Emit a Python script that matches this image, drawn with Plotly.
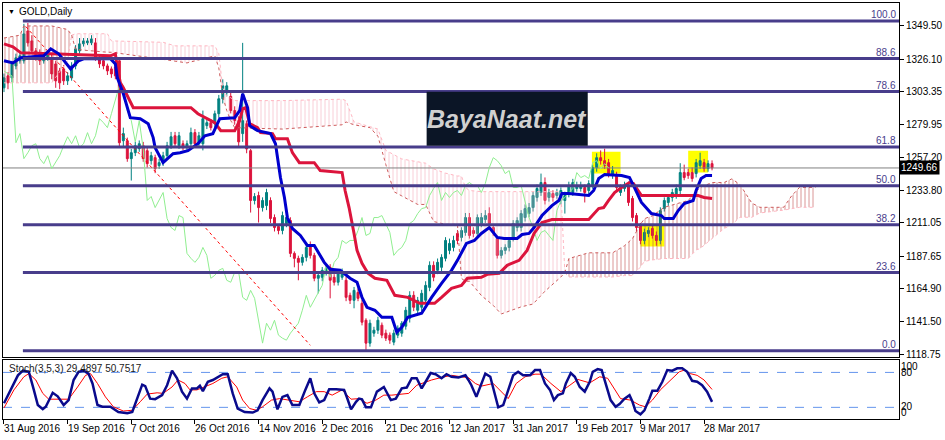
import plotly.graph_objects as go

# ---------------- DATA ----------------
bars = list(range(179))
opens = [1306, 1314.4, 1313.0, 1321.4, 1325.0, 1325.0, 1346.0, 1339.0, 1332.0, 1330.6,
         1325.0, 1327.1, 1327.1, 1322.8, 1317.9, 1319.3, 1310.9, 1313.0, 1321.4, 1332.0,
         1336.9, 1337.6, 1337.6, 1337.6, 1327.1, 1325.0, 1321.4, 1319.3, 1320.7, 1325.0,
         1268.8, 1268.8, 1256.2, 1260.4, 1263.2, 1265.3, 1261.8, 1254.8, 1256.9, 1251.3,
         1253.4, 1258.3, 1265.3, 1272.3, 1265.3, 1266.7, 1263.9, 1266.7, 1274.5, 1266.7,
         1266.7, 1279.4, 1281.5, 1280.8, 1287.8, 1298.3, 1302.5, 1300, 1290, 1283,
         1273.8, 1280.8, 1261.8, 1226.8, 1230.3, 1221.8, 1223.2, 1226.8, 1214.8, 1208.5,
         1205.7, 1210.6, 1212.7, 1189.6, 1186.1, 1183.3, 1186.8, 1195.2, 1188.2, 1172.1,
         1172.8, 1176.3, 1179.8, 1172.8, 1169.3, 1172.8, 1170.7, 1160.1, 1156.6, 1162.2,
         1154.5, 1142.6, 1126.5, 1133.5, 1135.6, 1139.1, 1133.5, 1132.1, 1127.2, 1132.1,
         1133.5, 1138.4, 1144.0, 1160.1, 1149.6, 1151.7, 1156.6, 1165.7, 1181.2, 1177.7,
         1179.8, 1186.1, 1191.7, 1193.8, 1203.6, 1200.8, 1204.3, 1214.8, 1205.7, 1203.6,
         1210.6, 1213.4, 1217.6, 1207.8, 1200.1, 1188.2, 1191.7, 1193.8, 1200.8, 1207.8,
         1207.8, 1214.8, 1217.6, 1221.8, 1228.9, 1232.4, 1239.4, 1228.9, 1231.7, 1230.3,
         1226.8, 1226.8, 1231.7, 1232.4, 1235.2, 1235.2, 1235.9, 1233.8, 1237.3, 1249.9,
         1256.9, 1254.8, 1253.4, 1244.3, 1244.3, 1232.4, 1235.2, 1237.3, 1228.2, 1216.2,
         1209.2, 1198.7, 1203.6, 1207.1, 1202.2, 1198.7, 1221.1, 1225.4, 1228.9, 1230.3,
         1233.8, 1246.4, 1246.4, 1246.4, 1245.7, 1251.3, 1253.4, 1249.2, 1252.7]
highs = [1316, 1317, 1325, 1330, 1331, 1351.0, 1351.6, 1343, 1334, 1333,
         1330, 1331, 1329, 1325, 1320, 1322, 1317, 1324, 1336, 1341,
         1341, 1341, 1343, 1341, 1329, 1327, 1323, 1321, 1323, 1326,
         1278, 1271, 1263, 1268, 1269, 1268, 1264, 1261, 1259, 1256,
         1261, 1268, 1275, 1275, 1275, 1269, 1269, 1278, 1277, 1275,
         1290, 1284, 1284, 1290, 1301, 1312, 1310, 1303, 1293, 1286,
         1337.6, 1283, 1263, 1232, 1233, 1229, 1235, 1229, 1217, 1210,
         1219, 1217, 1215, 1191, 1188, 1189, 1196, 1198, 1190, 1177,
         1180, 1181, 1182, 1175, 1178, 1179, 1173, 1162, 1166, 1165,
         1157, 1144, 1143, 1138, 1145, 1141, 1136, 1134, 1136, 1139,
         1142, 1152, 1163, 1163, 1159, 1164, 1170, 1184, 1184, 1186,
         1189, 1201, 1200, 1202, 1206, 1208, 1218, 1218, 1208, 1217,
         1218, 1220, 1222, 1210, 1202, 1194, 1196, 1201, 1213, 1215,
         1220, 1224, 1225, 1233, 1238, 1245.7, 1243, 1235, 1234, 1235,
         1236, 1233, 1240, 1242, 1240, 1240, 1238, 1241, 1252, 1260,
         1262, 1263.2, 1256, 1251, 1247, 1238, 1240, 1240, 1230, 1218,
         1211, 1207, 1208, 1210, 1205, 1222, 1229, 1231, 1235, 1238,
         1253, 1252, 1249, 1250, 1256, 1260.4, 1256, 1255, 1255]
lows = [1303, 1305, 1310, 1319, 1323, 1323, 1335, 1330, 1325, 1322,
        1323, 1325, 1312, 1306, 1305, 1308, 1308, 1311, 1319, 1330,
        1335, 1336, 1336, 1325, 1320, 1319, 1315, 1313, 1312, 1265,
        1265, 1254, 1240.8, 1258, 1261, 1254, 1250, 1252, 1246, 1249,
        1251, 1256, 1263, 1264, 1263, 1262, 1262, 1264, 1264, 1265,
        1262, 1277, 1276, 1278, 1285, 1295, 1300, 1288, 1280, 1265,
        1268, 1260, 1218.3, 1224, 1211.3, 1219, 1220, 1211, 1205, 1203,
        1203, 1208, 1187, 1179.8, 1170.7, 1181, 1184, 1186, 1170, 1161.5,
        1170, 1174, 1158.0, 1167, 1167, 1171, 1156, 1154, 1151.0, 1156,
        1139, 1121.6, 1124, 1131, 1133, 1130, 1128, 1126, 1125, 1130,
        1131, 1136, 1141, 1149, 1147, 1149, 1154, 1163, 1170, 1175,
        1177, 1184, 1189, 1191, 1196, 1198, 1202, 1200, 1201, 1201,
        1208, 1211, 1208, 1202, 1186, 1186, 1189, 1191, 1198, 1205,
        1205, 1212, 1215, 1219, 1226, 1230, 1224, 1226, 1226, 1228,
        1224, 1217.6, 1229, 1230, 1233, 1233, 1225.4, 1231, 1235, 1247,
        1252, 1249, 1243, 1242, 1233, 1230, 1233, 1223, 1212, 1205,
        1196, 1196, 1201, 1200, 1195, 1196, 1219, 1223, 1226, 1228,
        1231, 1241, 1242, 1240, 1243, 1249, 1247, 1247, 1248]
closes = [1313, 1309.5, 1322.8, 1327.1, 1328.5, 1343.9, 1337.6, 1332.0, 1327.1, 1325.0,
          1327.8, 1329.2, 1315.8, 1310.9, 1309.5, 1310.9, 1314.4, 1321.4, 1333.4, 1336.9,
          1339.0, 1339.0, 1340.4, 1327.1, 1322.8, 1321.4, 1317.9, 1315.8, 1314.4, 1267.4,
          1273.8, 1256.2, 1260.4, 1265.3, 1266.7, 1256.2, 1252.7, 1258.3, 1249.2, 1253.4,
          1258.3, 1265.3, 1271.6, 1266.7, 1272.3, 1263.9, 1266.7, 1274.5, 1266.7, 1272.3,
          1284.3, 1281.5, 1278.0, 1287.8, 1298.3, 1307.4, 1307.4, 1290, 1283, 1268,
          1282.9, 1263, 1226.8, 1229.6, 1221.8, 1226.8, 1232.4, 1214.1, 1207.8, 1205.7,
          1216.2, 1214.8, 1189.6, 1186.1, 1183.3, 1186.8, 1193.8, 1188.2, 1172.1, 1174.2,
          1177.7, 1179.1, 1170.7, 1169.3, 1176.3, 1176.3, 1158.7, 1156.6, 1163.6, 1158.0,
          1141.2, 1126.5, 1140.5, 1135.6, 1142.6, 1132.1, 1130.0, 1128.6, 1133.5, 1137.0,
          1140.5, 1149.6, 1160.1, 1151.7, 1156.6, 1161.5, 1167.1, 1181.2, 1172.8, 1183.3,
          1186.8, 1198.7, 1196.6, 1198.7, 1198.7, 1205.7, 1214.8, 1202.2, 1203.6, 1214.8,
          1214.8, 1216.2, 1210.6, 1204.3, 1188.2, 1191.7, 1193.8, 1198.7, 1210.6, 1212.7,
          1217.6, 1221.1, 1221.8, 1230.3, 1235.2, 1239.4, 1226.8, 1232.4, 1228.9, 1232.4,
          1233.8, 1230.3, 1237.3, 1239.4, 1237.3, 1237.3, 1232.4, 1238.7, 1249.9, 1256.9,
          1254.8, 1251.3, 1245.7, 1247.8, 1235.9, 1235.9, 1237.3, 1225.4, 1214.8, 1207.8,
          1198.7, 1204.3, 1205.7, 1202.2, 1198.7, 1219.7, 1226.8, 1228.9, 1232.4, 1235.2,
          1246.4, 1242.9, 1244.3, 1242.2, 1253.4, 1254.8, 1249.2, 1252.7, 1249.66]
last_price = 1249.66
chikou_shift = 26

tenkan_bars = [0, 2.25, 4.25, 10, 11.75, 13.75, 16.75, 18.75, 20, 26.75, 28, 28.5, 30, 31.75, 34.25, 36.25,
               37.5, 38, 40, 42.5, 44.25, 46.25, 48.75, 50.5, 52.5, 54.25, 58, 59.25, 60, 61.25, 61.75,
               63.75, 67, 68.25, 69.5, 70.5, 71.25, 72.5, 74.5, 76.25, 78, 80.5, 82, 84.5, 87, 88.75, 90,
               91.25, 93.25, 95, 97.5, 98.75, 100, 101.5, 105, 107.5, 110, 112.5, 114, 116.25, 118.25,
               120, 122, 124, 125.75, 129, 130.25, 132, 133.25, 135.25, 137.75, 139.5, 140.25, 142, 147,
               148.25, 149.5, 151, 155.25, 157.25, 158.5, 160.25, 162.75, 165.25, 166, 168.25, 169.5,
               171, 173.25, 174, 175.25, 176.5, 178]
tenkan_vals = [1325.0, 1323.5, 1327.1, 1328.5, 1333.4, 1329.9, 1319.3, 1325.0, 1326.4, 1326.4, 1322.8,
               1313.0, 1301.8, 1285.0, 1284.3, 1280.8, 1271.0, 1263.9, 1253.4, 1259.7, 1260.4, 1261.8,
               1266.7, 1272.3, 1273.8, 1284.3, 1285.0, 1289.9, 1301.8, 1292.0, 1279.4, 1275.9, 1273.8,
               1266.7, 1242.9, 1228.9, 1214.8, 1207.1, 1202.2, 1195.2, 1195.2, 1183.3, 1178.4, 1177.7,
               1172.1, 1169.3, 1158.7, 1151.7, 1149.6, 1144.7, 1144.7, 1134.2, 1137.7, 1144.7, 1147.5,
               1158.7, 1168.5, 1177.7, 1184.7, 1196.6, 1198.7, 1203.6, 1207.8, 1200.8, 1200.1, 1200.1,
               1202.9, 1203.6, 1207.8, 1216.2, 1223.2, 1226.8, 1231.7, 1231.7, 1230.3, 1233.8, 1242.2,
               1245.0, 1244.3, 1242.9, 1235.9, 1225.4, 1217.6, 1216.2, 1214.1, 1214.1, 1219.7, 1224.6,
               1226.8, 1233.8, 1242.2, 1244.3, 1244.3]

kijun_bars = [0, 2.25, 4.25, 26.75, 28, 28.5, 29.25, 30, 32.5, 47, 48.75, 50.5, 53, 54.5, 58, 59.25, 60,
              60.75, 61.75, 63.75, 64.5, 67.5, 68.25, 71.25, 72.5, 74.25, 78, 79.5, 85, 85.75, 86.75, 88,
              88.75, 90, 91.5, 93.25, 96.25, 98.25, 101.5, 104.5, 108.25, 110, 112.5, 115, 116.5, 120,
              121.5, 124.5, 126.5, 129.5, 131.5, 133.25, 135.25, 137.75, 147, 149.5, 150.75, 152, 153.5,
              155.25, 157.25, 158.25, 160.25, 174.5, 176, 178]
kijun_vals = [1336.9, 1334.8, 1330.6, 1328.5, 1329.9, 1320.0, 1309.5, 1306.0, 1292.0, 1292.0, 1287.8,
              1285.0, 1281.5, 1275.9, 1275.9, 1282.9, 1291.3, 1292.0, 1280.8, 1278.0, 1274.5, 1273.8,
              1270.2, 1270.2, 1260.4, 1253.4, 1253.4, 1247.8, 1246.4, 1233.8, 1221.8, 1203.6, 1191.7,
              1182.6, 1175.6, 1172.1, 1170.7, 1160.1, 1158.7, 1154.5, 1154.5, 1158.7, 1165.0, 1167.1,
              1172.1, 1172.8, 1174.9, 1175.6, 1181.2, 1184.7, 1191.7, 1203.6, 1211.3, 1213.4, 1213.4,
              1221.1, 1221.8, 1226.8, 1232.4, 1235.9, 1239.4, 1238.7, 1230.3, 1230.3, 1228.9, 1228.2]

# Kumo segments: (bars, span A, span B, bullish?)
kumo_segments = [
    ([0, 4, 5, 12, 16, 17],
     [1341, 1343, 1349.5, 1349.5, 1347, 1343],
     [1309.5, 1309.5, 1309.5, 1309.5, 1325, 1343], True),
    ([17, 18, 26, 27, 40, 43, 46, 53, 54, 55, 56, 57, 58, 70, 85, 86, 88, 92, 94, 96, 98, 100, 104, 106,
      108, 111, 114, 115, 116, 117, 120, 123, 125, 128, 130, 133, 136, 140, 141],
     [1343, 1333, 1331, 1331, 1326, 1325, 1323.5, 1328.5, 1320, 1300, 1290, 1283, 1278, 1277, 1280, 1282,
      1280, 1278, 1272, 1252, 1233, 1230, 1224, 1224, 1212, 1210, 1210, 1172, 1170, 1170, 1160, 1153,
      1147, 1150, 1152, 1154, 1163, 1173, 1176],
     [1343, 1344, 1344, 1339, 1338, 1335.5, 1335.5, 1335.5, 1330, 1306, 1300, 1299, 1297, 1297, 1298,
      1297, 1282, 1278.5, 1277, 1262, 1259, 1256, 1254, 1253, 1249, 1246, 1244, 1244, 1236, 1233.8, 1233,
      1233, 1233, 1233, 1233, 1233, 1233, 1233, 1176], False),
    ([141, 142, 147, 153, 156, 158, 160, 161, 163, 166, 172, 174, 175, 178, 181, 183, 185, 188, 190, 196,
      198, 200, 204],
     [1176, 1186, 1190, 1190, 1195, 1200, 1210, 1214, 1216, 1222, 1226.8, 1233, 1236, 1239.4, 1239.4,
      1242, 1238, 1225, 1222, 1222, 1230, 1236, 1236],
     [1176, 1173, 1173, 1173, 1174, 1174, 1180, 1184, 1185, 1186, 1186, 1192, 1193, 1200, 1207, 1210,
      1215, 1215, 1218, 1220, 1221, 1222, 1222], True),
]

fib_labels = ["100.0", "88.6", "78.6", "61.8", "50.0", "38.2", "23.6", "0.0"]
fib_prices = [1353.0, 1326.6, 1303.4, 1264.4, 1237.1, 1209.7, 1176.1, 1121.1]
fib_start_bar = 4.75

trend_bars = [5.5, 77]
trend_prices = [1349.0, 1125.0]

highlight_boxes = [(147.8, 155.0, 1245.7, 1261.1), (172.0, 177.0, 1246.4, 1261.8), (160.0, 166.0, 1194.5, 1209.2)]

price_ticks = [1118.75, 1141.50, 1164.90, 1187.65, 1211.05, 1233.80, 1257.20, 1279.95, 1303.35, 1326.10, 1349.50]
date_ticks = [0, 16, 32, 48, 64, 80, 96, 112, 128, 144, 160, 176]
date_labels = ["31 Aug 2016", "19 Sep 2016", "7 Oct 2016", "26 Oct 2016", "14 Nov 2016", "2 Dec 2016",
               "21 Dec 2016", "12 Jan 2017", "31 Jan 2017", "19 Feb 2017", "9 Mar 2017", "28 Mar 2017"]

stoch_k_bars = [0, 1.75, 3.5, 4.75, 6.25, 7.5, 8.5, 9.75, 10.5, 12.25, 13.5, 15, 16.25, 17.5, 18.75, 20,
                21.25, 22.25, 23.5, 24.75, 26.75, 28.75, 31, 32.25, 33.5, 34.75, 35.5, 36.75, 38, 39.75,
                41, 42.25, 43.5, 44.75, 46, 47.25, 48.5, 49.25, 50, 51.25, 52.5, 53.75, 55, 56.25, 57.5,
                58.75, 60.5, 62.5, 63.75, 65, 66.75, 67.5, 68.75, 70, 71.25, 72.5, 74.25, 75.75, 77, 78,
                79.25, 80.5, 81.75, 83.5, 85.5, 86.25, 87.25, 88.5, 89.25, 90, 91, 92.25, 93.75, 95.5,
                97.25, 98.5, 100, 101.25, 102.5, 103.75, 105, 106.25, 107.25, 108.5, 110, 111.25, 112.5,
                114.25, 116, 116.75, 117.5, 118.75, 120, 121, 122.25, 123.5, 124.25, 125.5, 126.75, 128,
                129.25, 130.5, 132.25, 133.5, 134.75, 136, 137.25, 138.25, 139.25, 140.5, 141.25, 142.5,
                143.5, 144.75, 146, 147.25, 148, 149.25, 150.25, 151.25, 152.5, 153.75, 154.75, 156,
                157.25, 158, 158.75, 160, 161, 162.25, 163, 164.25, 165.5, 166.75, 168, 169.25, 170.5,
                171.75, 173, 174.25, 175.5, 176.75, 178]
stoch_k_vals = [27, 50, 75, 83, 81, 50, 24, 17, 21, 45, 39, 24, 32.5, 67, 81, 83, 78, 61, 24, 21, 21, 12,
                10, 12, 35, 59, 56.5, 35, 34, 41, 58, 83, 70, 47, 35, 52.6, 52.6, 57, 48, 64, 67, 72.5,
                77, 77, 44, 18, 12, 11, 15, 32.5, 52.6, 47, 16.6, 38, 41, 24, 24, 50, 70, 44, 28.6, 32.5,
                51, 51, 50, 36.5, 16.6, 29.6, 35, 33.7, 20, 20, 47, 55, 32.5, 35, 52.6, 54, 70, 70, 52.6,
                67, 79, 77, 70, 77, 72.5, 71.4, 75, 67, 58, 38, 61, 78, 72.5, 38, 20, 24, 50, 75, 81, 75,
                75, 84, 84, 61, 50, 32.5, 41, 44, 61, 79, 72.5, 55, 47, 64, 81, 85.7, 84, 61, 32.5, 21,
                25.7, 35, 41, 29.6, 13.7, 8, 15, 35, 48.5, 48.5, 64, 84, 83, 87, 87, 81, 65.6, 64, 58,
                47, 29.49]
stoch_d_bars = [0, 2.5, 5, 6.25, 8, 9.75, 11.25, 13.75, 16.25, 18.5, 20.5, 21.75, 23.5, 25.5, 27.5, 30,
                32.25, 34.25, 36, 38.5, 40, 42.25, 43.75, 45.5, 46.75, 48.5, 50.5, 52.5, 54.75, 56.25,
                58.5, 60, 61.75, 63.5, 65, 67.25, 69.25, 71.75, 74.25, 76.25, 78.5, 80.5, 82.5, 85, 87.25,
                89.25, 91.25, 93.5, 95.5, 97.5, 99.75, 101.75, 103.75, 106, 107.5, 110, 112.5, 115,
                116.75, 118.5, 120, 123, 125, 126.75, 128.75, 131, 133.5, 135, 137.5, 140, 142.25,
                144.25, 147.25, 149.75, 151.75, 153.5, 155, 157.5, 159.75, 161.25, 163, 165, 167.5,
                169.75, 171, 172.5, 174.25, 176, 178]
stoch_d_vals = [19, 50, 72.5, 78, 67, 44, 34, 34, 34, 55, 75, 78, 61, 38, 21, 13.7, 15, 29.6, 42.8, 45, 44,
                55, 67, 61, 50, 50, 55, 61, 70, 72.5, 55, 32.5, 18, 15, 21, 32.5, 35, 32.5, 29.6, 38, 47,
                47, 41, 50, 34, 35, 27, 32.5, 41, 41, 42.8, 44, 58, 64, 67, 71.4, 75, 72.5, 71, 61, 56.5,
                61, 47, 35, 61, 72.5, 77, 77, 61, 47, 58, 68, 62, 72.5, 70, 50, 35, 32.5, 24, 21, 32.5,
                50, 67, 81, 84, 78, 75, 67, 50.75]
stoch_levels = [80, 20]
stoch_title = "Stoch(3,5,3) 29.4897 50.7517"

# ---------------- STYLE ----------------
TEAL = "#008080"
CRIMSON = "#DC143C"
FIB = "#483D8B"
XMIN, XMAX = -0.25, 225.0
FONT = "Liberation Sans, Arial, sans-serif"

fig = go.Figure()

# cloud
for sb, sa, sbb, up in kumo_segments:
    fig.add_trace(go.Scatter(x=sb, y=sbb, mode="lines", line=dict(color="#FFB6C1", width=1, dash="dot"),
                             hoverinfo="skip"))
    fig.add_trace(go.Scatter(x=sb, y=sa, mode="lines", line=dict(color="#CD5C5C", width=1, dash="dot"),
                             fill="tonexty", fillcolor="rgba(0,0,0,0)",
                             fillpattern=dict(shape="|", size=4, solidity=0.25,
                                              fgcolor="#C0504D" if up else "#F4AEBB",
                                              fgopacity=0.6 if up else 0.6,
                                              bgcolor="rgba(0,0,0,0)"),
                             hoverinfo="skip"))

# current price line
fig.add_trace(go.Scatter(x=[XMIN, XMAX], y=[last_price, last_price], mode="lines",
                         line=dict(color="#808080", width=1), hoverinfo="skip"))

# chikou span (closes displaced back)
fig.add_trace(go.Scatter(x=[b - chikou_shift for b in bars[chikou_shift:]], y=closes[chikou_shift:],
                         mode="lines", line=dict(color="#90EE90", width=1), hoverinfo="skip"))

# trend line
fig.add_trace(go.Scatter(x=trend_bars, y=trend_prices, mode="lines",
                         line=dict(color="#FF0000", width=1, dash="dot"), hoverinfo="skip"))

# candles
fig.add_trace(go.Candlestick(x=bars, open=opens, high=highs, low=lows, close=closes,
                             increasing=dict(line=dict(color=TEAL, width=1), fillcolor=TEAL),
                             decreasing=dict(line=dict(color=CRIMSON, width=1), fillcolor=CRIMSON),
                             whiskerwidth=0))

# kijun / tenkan
fig.add_trace(go.Scatter(x=kijun_bars, y=kijun_vals, mode="lines", line=dict(color=CRIMSON, width=3)))
fig.add_trace(go.Scatter(x=tenkan_bars, y=tenkan_vals, mode="lines", line=dict(color="#0000CD", width=3)))

# fib levels
for p in fib_prices:
    fig.add_trace(go.Scatter(x=[fib_start_bar, XMAX], y=[p, p], mode="lines",
                             line=dict(color=FIB, width=3), hoverinfo="skip"))

# stochastic
for lv in stoch_levels:
    fig.add_trace(go.Scatter(x=[XMIN, XMAX], y=[lv, lv], mode="lines", xaxis="x2", yaxis="y2",
                             line=dict(color="#6495ED", width=1, dash="dash"), hoverinfo="skip"))
fig.add_trace(go.Scatter(x=stoch_d_bars, y=stoch_d_vals, mode="lines", xaxis="x2", yaxis="y2",
                         line=dict(color="#FF0000", width=1)))
fig.add_trace(go.Scatter(x=stoch_k_bars, y=stoch_k_vals, mode="lines", xaxis="x2", yaxis="y2",
                         line=dict(color="#0A0A8C", width=2.5)))

# ---------------- LAYOUT ----------------
W, H = 945, 440
ML, MR, MT, MB = 2, 42, 2, 21
PH = H - MT - MB


def py(pix):
    return (H - MB - pix) / PH


def px(pix):
    return (pix - ML) / (W - ML - MR)


shapes = []
for b0, b1, p0, p1 in highlight_boxes:
    shapes.append(dict(type="rect", xref="x", yref="y", x0=b0, x1=b1, y0=p0, y1=p1,
                       fillcolor="#FFFF00", line=dict(width=0), layer="below"))
# logo box
shapes.append(dict(type="rect", xref="paper", yref="paper", x0=px(428), x1=px(590), y0=py(145), y1=py(91),
                   fillcolor="#0B1526", line=dict(width=0), layer="above"))

ann = []
for lab, p in zip(fib_labels, fib_prices):
    ann.append(dict(x=XMAX, y=p, xref="x", yref="y", text=lab, showarrow=False, xanchor="right",
                    yanchor="bottom", yshift=-1, xshift=-1, font=dict(size=10, color=FIB, family=FONT)))
for t, lab in zip(date_ticks, date_labels):
    ann.append(dict(x=t, y=py(429), xref="x2", yref="paper", text=lab, showarrow=False, xanchor="left",
                    yanchor="middle", xshift=-2, font=dict(size=10, color="black", family=FONT)))
ann.append(dict(x=1, y=last_price, xref="paper", yref="y", text="1249.66", showarrow=False,
                xanchor="left", yanchor="middle", xshift=0, bgcolor="black", borderpad=1,
                font=dict(size=10, color="white", family=FONT)))
for lab, pix in [("100", 366), ("80", 372.7), ("20", 406.7), ("0", 412.7)]:
    ann.append(dict(x=1, y=py(pix), xref="paper", yref="paper", text=lab, showarrow=False,
                    xanchor="left", yanchor="middle", xshift=0,
                    font=dict(size=10, color="black", family=FONT)))
ann.append(dict(x=px(5), y=py(11), xref="paper", yref="paper", text="\u25BC", showarrow=False,
                xanchor="left", yanchor="middle", font=dict(size=7, color="black", family=FONT)))
ann.append(dict(x=px(16), y=py(11), xref="paper", yref="paper", text="GOLD,Daily", showarrow=False,
                xanchor="left", yanchor="middle", font=dict(size=10, color="black", family=FONT)))
ann.append(dict(x=px(6), y=py(368), xref="paper", yref="paper", text=stoch_title, showarrow=False,
                xanchor="left", yanchor="middle", font=dict(size=10, color="#1a1a1a", family=FONT)))
ann.append(dict(x=px(509), y=py(118), xref="paper", yref="paper", text="<b><i>BayaNaat.net</i></b>",
                showarrow=False, xanchor="center", yanchor="middle",
                font=dict(size=25, color="#D0D0D0", family="Liberation Sans Narrow, Liberation Sans, sans-serif")))

fig.update_layout(
    width=W, height=H, margin=dict(l=ML, r=MR, t=MT, b=MB),
    paper_bgcolor="white", plot_bgcolor="white", showlegend=False,
    font=dict(family=FONT, size=10, color="black"),
    xaxis=dict(domain=[0, 1], anchor="y", range=[XMIN, XMAX], showgrid=False, zeroline=False,
               showticklabels=False, ticks="", showline=True, mirror=True, linecolor="black", linewidth=1,
               rangeslider=dict(visible=False)),
    yaxis=dict(domain=[py(357), 1], anchor="x", range=[1116.65, 1365.63], side="right",
               tickvals=price_ticks, ticktext=["%.2f" % v for v in price_ticks],
               ticks="outside", ticklen=4, tickcolor="black", showgrid=False, zeroline=False,
               showline=True, mirror=True, linecolor="black", linewidth=1,
               tickfont=dict(size=10, family=FONT, color="black")),
    xaxis2=dict(domain=[0, 1], anchor="y2", matches="x", showgrid=False, zeroline=False,
                tickvals=date_ticks, ticks="outside", ticklen=4, tickcolor="black", showticklabels=False,
                showline=True, mirror=True, linecolor="black", linewidth=1),
    yaxis2=dict(domain=[0, py(360)], anchor="x2", range=[0, 101.1], side="right", showticklabels=False,
                ticks="", showgrid=False, zeroline=False, showline=True, mirror=True, linecolor="black",
                linewidth=1),
    shapes=shapes, annotations=ann,
)

fig.write_html("out.html", config={"displayModeBar": False},
               post_script="document.body.style.margin='0';document.body.style.overflow='hidden';")
